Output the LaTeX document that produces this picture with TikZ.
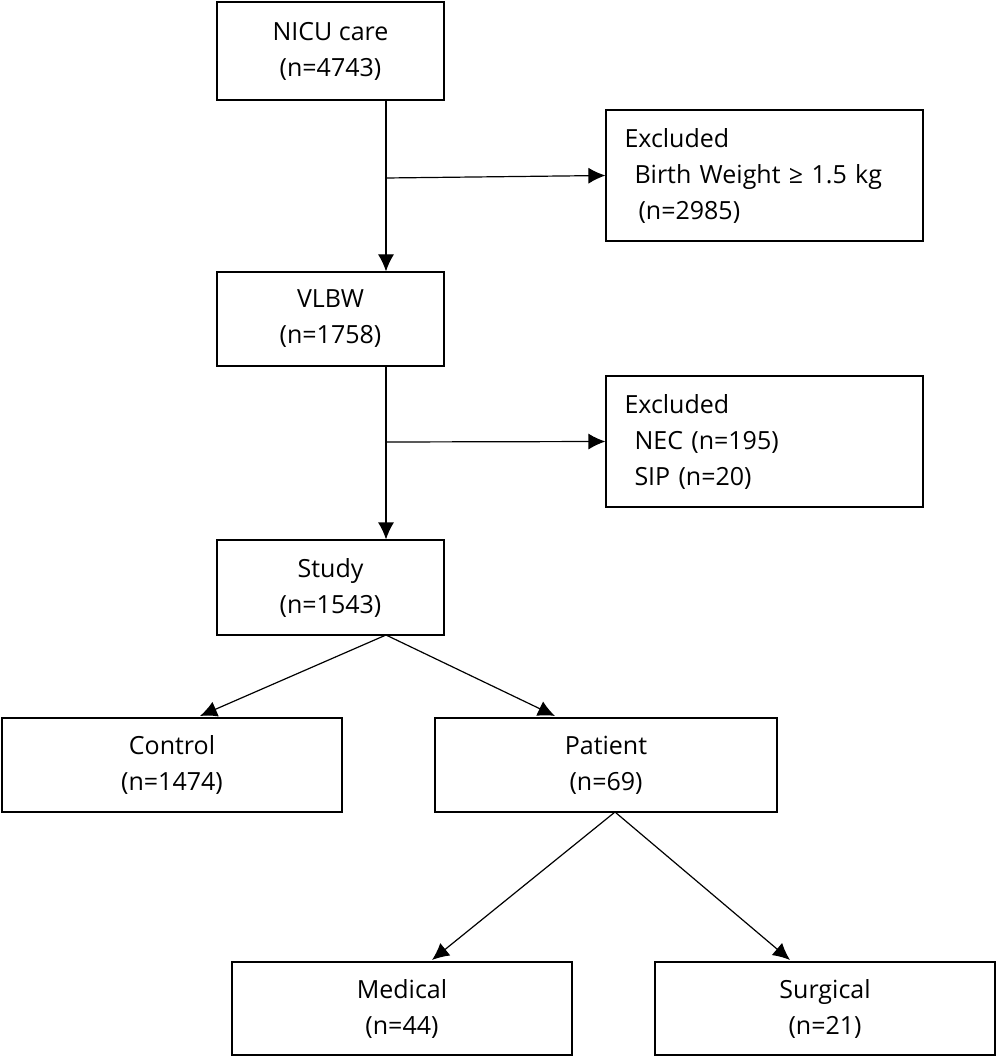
\documentclass[tikz,border=0pt]{standalone}
\usepackage{fontspec}
\setmainfont{Open Sans}
\usetikzlibrary{arrows.meta,positioning}

\begin{document}
\begin{tikzpicture}[x=0.5pt,y=-0.5pt]
\tikzset{
  box/.style={draw=black,line width=0.6pt,inner sep=0pt,align=center,
    font=\fontsize{12.5}{18}\selectfont},
  exbox/.style={box,align=left,text width=140pt,
    minimum width=158.5pt,minimum height=65.5pt},
  flow/.style={line width=0.6pt,-{Latex[length=8.5pt,width=8pt]}}
}
\useasboundingbox (0,0) rectangle (1000,1058);
% main column
\node[box,minimum width=113.5pt,minimum height=49pt] (nicu) at (330.5,51) {NICU care\\(n=4743)};
\node[box,minimum width=113.5pt,minimum height=47pt] (vlbw) at (330.5,319) {VLBW\\(n=1758)};
\node[box,minimum width=113.5pt,minimum height=47.5pt] (study) at (330.5,587.5) {Study\\(n=1543)};
% exclusions
\node[exbox] (exa) at (764.5,175.5) {Excluded\\\hspace*{5pt}Birth Weight ≥ 1.5 kg\\\hspace*{7pt}(n=2985)};
\node[exbox] (exb) at (764.5,441.5) {Excluded\\\hspace*{5pt}NEC (n=195)\\\hspace*{5pt}SIP (n=20)};
% groups
\node[box,minimum width=170pt,minimum height=47pt] (ctrl) at (172,765) {Control\\(n=1474)};
\node[box,minimum width=171pt,minimum height=47pt] (pat) at (606,765) {Patient\\(n=69)};
\node[box,minimum width=170pt,minimum height=46.5pt] (med) at (402,1008.5) {Medical\\(n=44)};
\node[box,minimum width=170pt,minimum height=46.5pt] (surg) at (825,1008.5) {Surgical\\(n=21)};
% connectors
\coordinate (ja) at (386,178);
\coordinate (jb) at (386,442);
\draw[flow] (nicu.south -| ja) -- (vlbw.north -| ja);
\draw[flow] (ja) -- (exa.west);
\draw[flow] (vlbw.south -| jb) -- (study.north -| jb);
\draw[flow] (jb) -- (exb.west);
\coordinate (sa) at (386,635);
\coordinate (pa) at (615,812);
\draw[flow] (sa) -- (200,716);
\draw[flow] (sa) -- (555,716);
\draw[flow] (pa) -- (432,960);
\draw[flow] (pa) -- (790,960);
\end{tikzpicture}
\end{document}
